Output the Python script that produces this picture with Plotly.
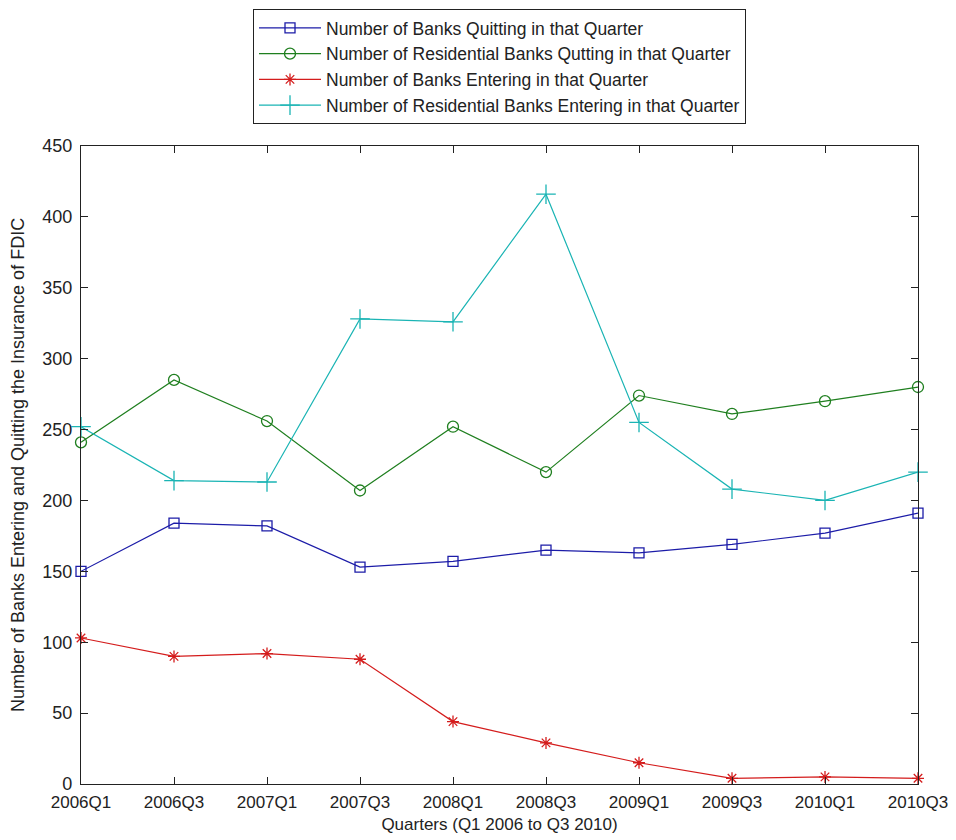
import plotly.graph_objects as go

quarters = ["2006Q1", "2006Q3", "2007Q1", "2007Q3", "2008Q1",
            "2008Q3", "2009Q1", "2009Q3", "2010Q1", "2010Q3"]

banks_quitting = [150, 184, 182, 153, 157, 165, 163, 169, 177, 191]
resid_quitting = [241, 285, 256, 207, 252, 220, 274, 261, 270, 280]
banks_entering = [103, 90, 92, 88, 44, 29, 15, 4, 5, 4]
resid_entering = [252, 214, 213, 328, 326, 416, 255, 208, 200, 220]

y_ticks = [0, 50, 100, 150, 200, 250, 300, 350, 400, 450]

FONT = "Liberation Sans, Arial, sans-serif"

fig = go.Figure()

series = [
    ("Number of Banks Quitting in that Quarter", banks_quitting, "#1c1ca8", "square-open", 10),
    ("Number of Residential Banks Qutting in that Quarter", resid_quitting, "#1f7f1f", "circle-open", 11),
    ("Number of Banks Entering in that Quarter", banks_entering, "#d41c1c", "asterisk-open", 10),
    ("Number of Residential Banks Entering in that Quarter", resid_entering, "#1ab4b4", "cross-thin-open", 14),
]

for name, vals, color, sym, size in series:
    fig.add_trace(go.Scatter(
        x=quarters, y=vals, name=name, mode="lines+markers",
        line=dict(color=color, width=1.2),
        marker=dict(symbol=sym, size=size, color=color,
                    line=dict(color=color, width=1.3)),
        cliponaxis=False,
    ))

fig.update_layout(
    width=948, height=832,
    margin=dict(l=73, r=38, t=138, b=56, autoexpand=False),
    paper_bgcolor="white", plot_bgcolor="white",
    font=dict(family=FONT, size=18, color="#222"),
    showlegend=True,
    legend=dict(
        x=0.5, xanchor="center", y=1.2147, yanchor="top",
        xref="paper", yref="paper",
        bordercolor="#222", borderwidth=1, bgcolor="white",
        font=dict(family=FONT, size=17.5, color="#222"),
        tracegroupgap=0, itemwidth=62,
    ),
    xaxis=dict(
        type="category", range=[0, 9], automargin=False,
        showline=True, linecolor="#222", linewidth=1.3, mirror="ticks",
        ticks="inside", ticklen=7, tickcolor="#222",
        ticklabelstandoff=2,
        showgrid=False, zeroline=False,
        tickfont=dict(family=FONT, size=17, color="#222"),
        title=dict(text="Quarters (Q1 2006 to Q3 2010)", standoff=7,
                   font=dict(family=FONT, size=17, color="#222")),
    ),
    yaxis=dict(
        range=[0, 450], tickvals=y_ticks, automargin=False,
        showline=True, linecolor="#222", linewidth=1.3, mirror="ticks",
        ticks="inside", ticklen=7, tickcolor="#222",
        ticklabelstandoff=4,
        showgrid=False, zeroline=False,
        tickfont=dict(family=FONT, size=18, color="#222"),
        title=dict(text="Number of Banks Entering and Quitting the Insurance of FDIC",
                   standoff=14, font=dict(family=FONT, size=18, color="#222")),
    ),
)

fig.write_html("out.html")
